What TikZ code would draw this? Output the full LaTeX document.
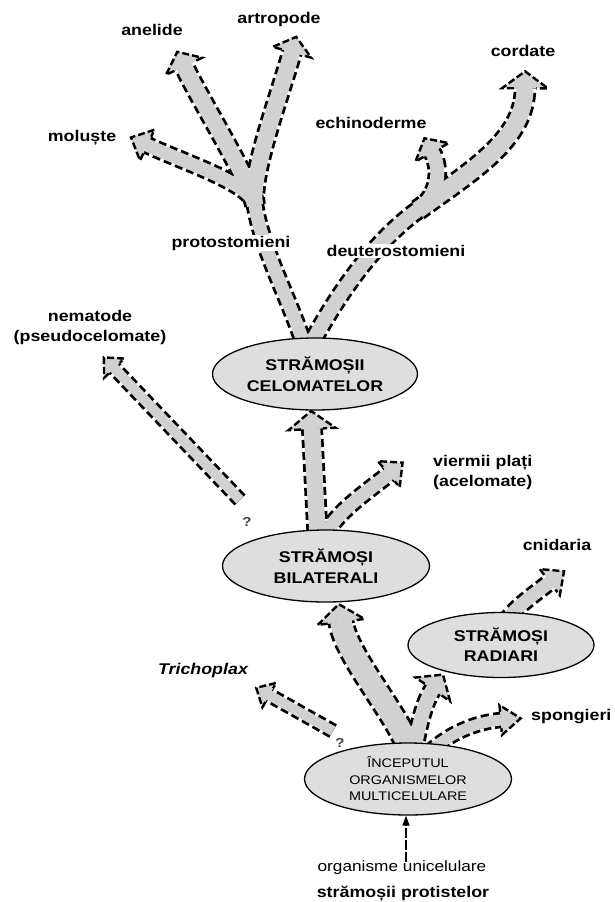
\documentclass[tikz,border=0pt]{standalone}
\usepackage{fontspec}
\setmainfont{Liberation Sans}[FakeStretch=1.15]
\usetikzlibrary{arrows.meta,shapes.geometric,decorations.markings}

\definecolor{nodefill}{gray}{0.87}
\definecolor{shaftfill}{gray}{0.82}

\pgfdeclarelayer{rims}
\pgfdeclarelayer{cores}
\pgfsetlayers{rims,cores,main}

\tikzset{
  anc/.style={ellipse, draw, line width=1.3pt, fill=nodefill, minimum width=207pt,
    minimum height=72pt, inner sep=0pt, align=center,
    font=\bfseries\fontsize{15.5}{21}\selectfont},
  lbl/.style={font=\bfseries\fontsize{15.5}{20}\selectfont, inner sep=1pt},
  qm/.style={font=\bfseries\fontsize{13}{15}\selectfont, text=black!75, inner sep=1pt},
  rim/.style={draw=black, dash pattern=on 8pt off 4pt},
  core/.style={draw=shaftfill},
  headrim/.style={draw=black, line width=2.4pt, dash pattern=on 7pt off 3pt},
  tip/.style n args={3}{postaction={decorate, decoration={markings,
    mark=at position -0.3pt with {
      \fill[shaftfill] (0,-#1) -- (#2,0) -- (0,#1) -- cycle;
      \draw[headrim] (0,#3) -- (0,#1) -- (#2,0) -- (0,-#1) -- (0,-#3);
    }}}}
}

% hollow arrow: dashed rim below, grey core above
\newcommand\shaft[3][]{%
  \begin{pgfonlayer}{rims}\draw[rim, line width=#2+5.5pt] #3;\end{pgfonlayer}
  \begin{pgfonlayer}{cores}\draw[core, line width=#2, #1] #3;\end{pgfonlayer}}

\begin{document}
\begin{tikzpicture}[x=1pt, y=1pt]
\useasboundingbox (0,0) rectangle (615,-902);
% ancestors
\node[anc, minimum width=205pt] (cel) at (315,-374) {STRĂMOȘII\\CELOMATELOR};
\node[anc] (bil) at (326,-566) {STRĂMOȘI\\BILATERALI};
\node[anc, minimum width=186pt, minimum height=65pt, font=\bfseries\fontsize{15.5}{20}\selectfont] (rad) at (501,-645) {STRĂMOȘI\\RADIARI};
\node[anc, font=\fontsize{12.5}{16.5}\selectfont] (inc) at (408,-779) {ÎNCEPUTUL\\ORGANISMELOR\\MULTICELULARE};
% groups
\foreach \n/\x/\y/\t in {anelide/152/-30/anelide, artropode/279/-19/artropode, moluste/82/-138/moluște,
    echino/371/-123/echinoderme, cordate/523/-51/cordate, cnid/557/-545/cnidaria}
  \node[lbl] (\n) at (\x,\y) {\t};
\node[lbl, fill=white] (proto) at (231,-243) {protostomieni};
\node[lbl, fill=white] (deutero) at (396,-251) {deuterostomieni};
\node[lbl, align=center] (nemat) at (90,-327) {nematode\\(pseudocelomate)};
\node[lbl, align=left, anchor=west] (plati) at (432,-472) {viermii plați\\(acelomate)};
\node[lbl, anchor=west] (spong) at (530,-717) {spongieri};
\node[lbl, font=\bfseries\itshape\fontsize{15.5}{20}\selectfont] (trich) at (203,-670) {Trichoplax};
\node[qm] (q1) at (247,-522) {?};
\node[qm] (q2) at (340,-743) {?};
\node[font=\fontsize{15}{20}\selectfont, inner sep=1pt] (unicel) at (402,-868) {organisme unicelulare};
\node[lbl] (protist) at (403,-894) {strămoșii protistelor};

% branch points and shaft ends
\coordinate (j2) at (255,-205);
\coordinate (j3) at (418,-210);
\coordinate (aneEnd) at (184,-66);
\coordinate (artEnd) at (292,-52);
\coordinate (molEnd) at (147,-145);
\coordinate (echEnd) at (432,-152);
\coordinate (corEnd) at (525,-88);
\coordinate (celIn) at ([shift={(-3pt,-18pt)}]cel.south);
\coordinate (bilIn) at ([shift={(15pt,-19pt)}]bil.south);
\coordinate (radIn) at ([shift={(-68pt,-11pt)}]rad.south);
\coordinate (platEnd) at (389,-474);
\coordinate (cnidEnd) at (550,-582);
\coordinate (spongEnd) at (501,-720);
\coordinate (nemTail) at ([shift={(-7pt,22pt)}]q1.center);
\coordinate (nemEnd) at (114,-368);
\coordinate (trichTail) at ([shift={(-7pt,12pt)}]q2.center);
\coordinate (trichEnd) at (269,-695);

% protostomieni
\shaft{13pt}{([shift={(-10pt,-10pt)}]cel.north) .. controls (290,-300) and (262,-250) .. (j2)}
\shaft[tip={20}{16}{10.75}]{16pt}{(j2) .. controls (250,-175) and (280,-95) .. (artEnd)}
\shaft[tip={20}{16}{10.75}]{16pt}{(j2) .. controls (250,-180) and (200,-100) .. (aneEnd)}
\shaft[tip={17}{18}{9.25}]{13pt}{(j2) .. controls (250,-183) and (185,-163) .. (molEnd)}
% deuterostomieni
\shaft{14pt}{([shift={(-6pt,-10pt)}]cel.north) .. controls (335,-300) and (370,-245) .. (j3)}
\shaft[tip={23}{17}{11.25}]{17pt}{(j3) .. controls (470,-172) and (525,-140) .. (corEnd)}
\shaft[tip={19}{16}{9.75}]{14pt}{(j3) .. controls (440,-194) and (441,-168) .. (echEnd)}
% bilaterali
\shaft[tip={23.5}{18}{11}]{16.5pt}{([shift={(-8pt,-14pt)}]bil.north) -- (celIn)}
\shaft[tip={17}{18}{9.25}]{13pt}{([shift={(-4pt,-14pt)}]bil.north) .. controls (330,-515) and (370,-490) .. (platEnd)}
\shaft[tip={14}{15}{7.75}]{10pt}{(nemTail) -- (nemEnd)}
% multicellular start
\shaft[tip={23.5}{18}{13.5}]{21.5pt}{([shift={(2pt,-9pt)}]inc.north) .. controls (402,-720) and (345,-655) .. (bilIn)}
\shaft[tip={21}{18}{9.75}]{14pt}{([shift={(6pt,-9pt)}]inc.north) .. controls (418,-728) and (424,-702) .. (radIn)}
\shaft[tip={15}{20}{8.25}]{11pt}{([shift={(22pt,-9pt)}]inc.north) .. controls (450,-733) and (476,-722) .. (spongEnd)}
\shaft[tip={16.5}{18}{9.25}]{13pt}{([shift={(5pt,-10pt)}]rad.north) .. controls (512,-610) and (533,-595) .. (cnidEnd)}
\shaft[tip={14}{15}{7.75}]{10pt}{(trichTail) -- (trichEnd)}
% from the protists
\draw[line width=1.4pt, dash pattern=on 10pt off 2pt, -{Triangle[length=10pt,width=7pt]}]
  ([shift={(4pt,-2pt)}]unicel.north) -- ([xshift=-2pt]inc.south);
\end{tikzpicture}
\end{document}
